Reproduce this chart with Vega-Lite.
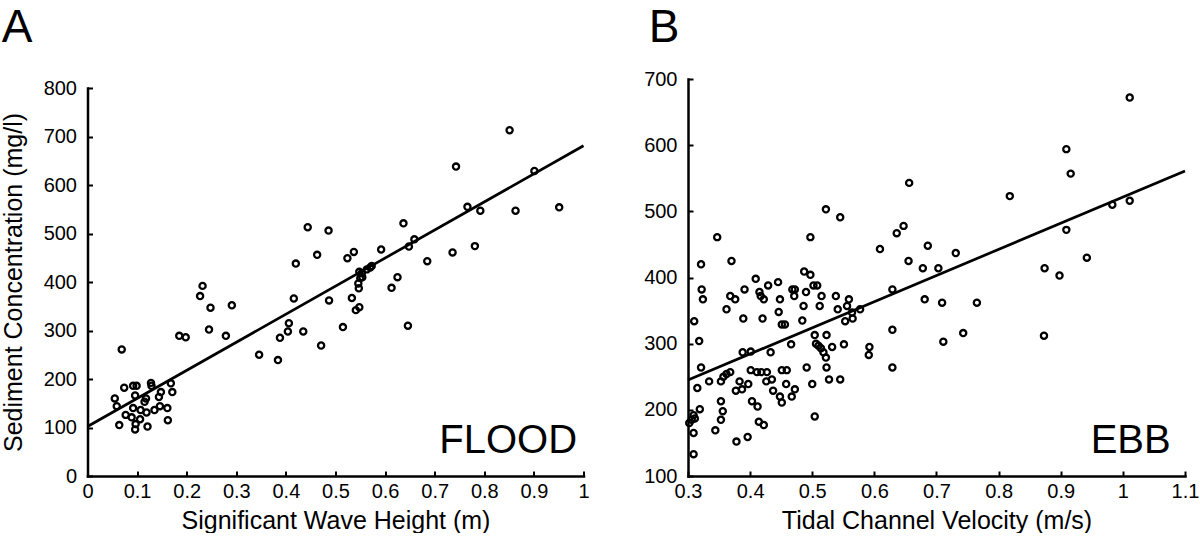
{
  "$schema": "https://vega.github.io/schema/vega-lite/v6.json",
  "background": "white",
  "padding": {"left": 1.5, "top": 5, "right": 0, "bottom": 0},
  "config": {
    "font": "Liberation Sans",
    "view": {"stroke": null},
    "axis": {
      "domainColor": "black", "domainWidth": 2.5, "domainCap": "square",
      "tickColor": "black", "tickWidth": 2, "tickSize": -5,
      "labelFontSize": 20, "labelColor": "black", "labelFont": "Liberation Sans",
      "grid": false, "titleFontSize": 25, "titleFontWeight": "normal", "titleColor": "black", "titleFont": "Liberation Sans",
      "labelFlush": false, "labelOverlap": false
    },
    "axisX": {"titlePadding": 7, "labelPadding": 10},
    "axisY": {"titlePadding": 16.5, "labelPadding": 16},
    "title": {"fontSize": 46, "fontWeight": "normal", "anchor": "start", "color": "black", "font": "Liberation Sans"},
    "concat": {"spacing": 53.5}
  },
  "datasets": {
    "flood": [
      {"h":0.069,"c":261},{"h":0.185,"c":289},{"h":0.198,"c":286},{"h":0.074,"c":182},{"h":0.092,"c":186},{"h":0.099,"c":186},
      {"h":0.128,"c":192},{"h":0.129,"c":186},{"h":0.168,"c":191},{"h":0.171,"c":173},{"h":0.148,"c":173},{"h":0.144,"c":163},
      {"h":0.055,"c":160},{"h":0.059,"c":144},{"h":0.096,"c":166},{"h":0.118,"c":160},{"h":0.115,"c":153},{"h":0.092,"c":140},
      {"h":0.107,"c":136},{"h":0.119,"c":131},{"h":0.135,"c":136},{"h":0.146,"c":144},{"h":0.161,"c":140},{"h":0.077,"c":126},
      {"h":0.089,"c":121},{"h":0.106,"c":117},{"h":0.097,"c":107},{"h":0.096,"c":96},{"h":0.064,"c":105},{"h":0.121,"c":102},
      {"h":0.162,"c":115},
      {"h":0.444,"c":513},{"h":0.486,"c":506},{"h":0.463,"c":456},{"h":0.420,"c":438},{"h":0.524,"c":449},{"h":0.537,"c":462},
      {"h":0.592,"c":467},{"h":0.232,"c":392},{"h":0.227,"c":371},{"h":0.248,"c":347},{"h":0.291,"c":352},{"h":0.245,"c":302},
      {"h":0.279,"c":289},{"h":0.416,"c":366},{"h":0.487,"c":362},{"h":0.533,"c":367},{"h":0.406,"c":315},{"h":0.404,"c":298},
      {"h":0.388,"c":285},{"h":0.435,"c":298},{"h":0.515,"c":307},{"h":0.471,"c":269},{"h":0.346,"c":250},{"h":0.384,"c":239},
      {"h":0.548,"c":421},{"h":0.553,"c":418},{"h":0.550,"c":408},{"h":0.554,"c":410},{"h":0.546,"c":397},{"h":0.547,"c":387},
      {"h":0.563,"c":426},{"h":0.570,"c":430},{"h":0.573,"c":433},
      {"h":0.541,"c":342},{"h":0.548,"c":348},{"h":0.613,"c":388},{"h":0.625,"c":410},
      {"h":0.743,"c":638},{"h":0.766,"c":555},{"h":0.792,"c":547},{"h":0.637,"c":521},{"h":0.659,"c":488},{"h":0.648,"c":473},
      {"h":0.685,"c":443},{"h":0.736,"c":461},{"h":0.781,"c":474},{"h":0.646,"c":310},
      {"h":0.851,"c":713},{"h":0.901,"c":629},{"h":0.863,"c":547},{"h":0.951,"c":554}
    ],
    "floodFit": [{"h":0,"c":102},{"h":1,"c":681}],
    "ebb": [
      {"v":0.347,"c":461},{"v":0.497,"c":461},{"v":0.636,"c":467},{"v":0.609,"c":443},{"v":0.321,"c":420},{"v":0.370,"c":425},
      {"v":0.487,"c":409},{"v":0.497,"c":404},{"v":0.409,"c":398},{"v":0.322,"c":382},{"v":0.324,"c":367},{"v":0.391,"c":382},
      {"v":0.368,"c":372},{"v":0.376,"c":367},{"v":0.362,"c":352},{"v":0.415,"c":378},{"v":0.417,"c":372},{"v":0.422,"c":367},
      {"v":0.429,"c":388},{"v":0.445,"c":393},{"v":0.448,"c":367},{"v":0.446,"c":348},{"v":0.468,"c":382},{"v":0.472,"c":382},
      {"v":0.471,"c":372},{"v":0.490,"c":378},{"v":0.502,"c":388},{"v":0.508,"c":388},{"v":0.515,"c":372},{"v":0.512,"c":357},
      {"v":0.486,"c":357},{"v":0.538,"c":372},{"v":0.559,"c":367},{"v":0.541,"c":352},{"v":0.556,"c":357},{"v":0.564,"c":347},
      {"v":0.577,"c":352},{"v":0.565,"c":338},{"v":0.553,"c":334},{"v":0.389,"c":338},{"v":0.420,"c":338},{"v":0.484,"c":335},
      {"v":0.451,"c":329},{"v":0.456,"c":329},{"v":0.310,"c":334},{"v":0.318,"c":304},{"v":0.504,"c":313},{"v":0.523,"c":313},
      {"v":0.506,"c":300},{"v":0.510,"c":297},{"v":0.514,"c":293},{"v":0.532,"c":295},{"v":0.551,"c":299},{"v":0.518,"c":287},
      {"v":0.522,"c":279},{"v":0.466,"c":299},{"v":0.433,"c":287},{"v":0.388,"c":287},{"v":0.401,"c":288},{"v":0.592,"c":295},
      {"v":0.591,"c":283},{"v":0.629,"c":321},{"v":0.629,"c":382},{"v":0.629,"c":264},{"v":0.321,"c":264},{"v":0.334,"c":243},
      {"v":0.353,"c":243},{"v":0.357,"c":250},{"v":0.362,"c":254},{"v":0.368,"c":257},{"v":0.401,"c":260},{"v":0.411,"c":257},
      {"v":0.418,"c":257},{"v":0.427,"c":257},{"v":0.383,"c":243},{"v":0.397,"c":239},{"v":0.377,"c":229},{"v":0.387,"c":231},
      {"v":0.426,"c":243},{"v":0.435,"c":246},{"v":0.451,"c":260},{"v":0.459,"c":260},{"v":0.458,"c":239},{"v":0.437,"c":229},
      {"v":0.448,"c":220},{"v":0.451,"c":211},{"v":0.467,"c":220},{"v":0.472,"c":231},{"v":0.491,"c":264},{"v":0.500,"c":239},
      {"v":0.523,"c":264},{"v":0.527,"c":246},{"v":0.545,"c":246},{"v":0.315,"c":233},{"v":0.353,"c":213},{"v":0.356,"c":198},
      {"v":0.353,"c":185},{"v":0.403,"c":213},{"v":0.412,"c":205},{"v":0.414,"c":182},{"v":0.422,"c":177},{"v":0.319,"c":201},
      {"v":0.309,"c":192},{"v":0.311,"c":187},{"v":0.306,"c":185},{"v":0.302,"c":180},{"v":0.309,"c":165},{"v":0.309,"c":133},
      {"v":0.344,"c":169},{"v":0.378,"c":152},{"v":0.396,"c":159},{"v":0.504,"c":190},
      {"v":1.011,"c":672},{"v":0.909,"c":594},{"v":0.916,"c":557},{"v":0.656,"c":543},{"v":0.818,"c":523},{"v":0.983,"c":510},
      {"v":1.011,"c":516},{"v":0.909,"c":472},{"v":0.647,"c":478},{"v":0.686,"c":448},{"v":0.655,"c":425},{"v":0.678,"c":414},
      {"v":0.703,"c":414},{"v":0.731,"c":437},{"v":0.942,"c":430},{"v":0.874,"c":414},{"v":0.898,"c":403},{"v":0.681,"c":367},
      {"v":0.709,"c":362},{"v":0.765,"c":362},{"v":0.711,"c":303},{"v":0.743,"c":316},{"v":0.873,"c":312},
      {"v":0.522,"c":503},{"v":0.545,"c":491}
    ],
    "ebbFit": [{"v":0.3,"c":245},{"v":1.1,"c":561}]
  },
  "hconcat": [
    {
      "title": {"text": "A", "offset": 26, "dx": 0},
      "width": 496,
      "height": 397,
      "layer": [
        {
          "data": {"name": "flood"},
          "mark": {"type": "point", "shape": "circle", "filled": false, "stroke": "black", "strokeWidth": 2.3, "size": 38, "opacity": 1},
          "encoding": {
            "x": {"field": "h", "type": "quantitative", "scale": {"domain": [0, 1], "nice": false, "zero": false},
                  "axis": {"title": "Significant Wave Height (m)", "values": [0, 0.1, 0.2, 0.3, 0.4, 0.5, 0.6, 0.7, 0.8, 0.9, 1], "format": "~g"}},
            "y": {"field": "c", "type": "quantitative", "scale": {"domain": [0, 800], "nice": false, "range": [397, 9]},
                  "axis": {"title": "Sediment Concentration (mg/l)", "values": [0, 100, 200, 300, 400, 500, 600, 700, 800]}}
          }
        },
        {
          "data": {"name": "floodFit"},
          "mark": {"type": "line", "color": "black", "strokeWidth": 2.7},
          "encoding": {
            "x": {"field": "h", "type": "quantitative"},
            "y": {"field": "c", "type": "quantitative"}
          }
        },
        {
          "data": {"values": [{}]},
          "mark": {"type": "text", "align": "right", "baseline": "alphabetic", "fontSize": 40, "font": "Liberation Sans", "color": "black"},
          "encoding": {"x": {"datum": 0.987}, "y": {"datum": 47}, "text": {"value": "FLOOD"}}
        }
      ]
    },
    {
      "title": {"text": "B", "offset": 17, "dx": 5},
      "width": 497,
      "height": 397,
      "layer": [
        {
          "data": {"name": "ebb"},
          "mark": {"type": "point", "shape": "circle", "filled": false, "stroke": "black", "strokeWidth": 2.3, "size": 38, "opacity": 1},
          "encoding": {
            "x": {"field": "v", "type": "quantitative", "scale": {"domain": [0.3, 1.1], "nice": false, "zero": false},
                  "axis": {"title": "Tidal Channel Velocity (m/s)", "values": [0.3, 0.4, 0.5, 0.6, 0.7, 0.8, 0.9, 1, 1.1], "format": "~g"}},
            "y": {"field": "c", "type": "quantitative", "scale": {"domain": [100, 700], "nice": false, "zero": false},
                  "axis": {"title": null, "values": [100, 200, 300, 400, 500, 600, 700]}}
          }
        },
        {
          "data": {"name": "ebbFit"},
          "mark": {"type": "line", "color": "black", "strokeWidth": 2.7},
          "encoding": {
            "x": {"field": "v", "type": "quantitative"},
            "y": {"field": "c", "type": "quantitative"}
          }
        },
        {
          "data": {"values": [{}]},
          "mark": {"type": "text", "align": "right", "baseline": "alphabetic", "fontSize": 40, "font": "Liberation Sans", "color": "black"},
          "encoding": {"x": {"datum": 1.077}, "y": {"datum": 135}, "text": {"value": "EBB"}}
        }
      ]
    }
  ]
}
